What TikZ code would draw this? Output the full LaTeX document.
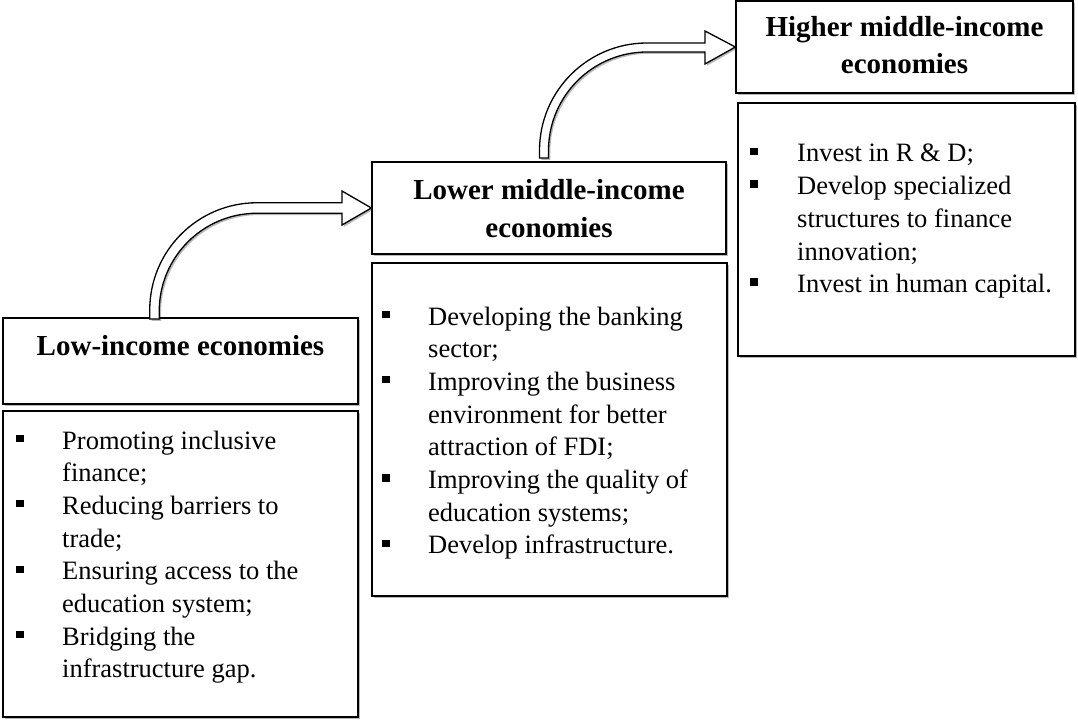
\documentclass[tikz,border=0pt]{standalone}
\usepackage{fontspec}
\setmainfont{Liberation Serif}
\usetikzlibrary{shadows}
\newcommand{\bul}{\makebox[46pt][l]{\rule[7pt]{7.3pt}{7.3pt}}}
\begin{document}
\begin{tikzpicture}[x=1pt,y=-1pt,
  shade/.style={drop shadow={shadow xshift=1.8pt,shadow yshift=-1.8pt,opacity=0.28,fill=black}},
  box/.style={draw=black,line width=1.3pt,fill=white,inner sep=0pt,shade},
  head/.style={inner sep=0pt,anchor=base,font=\fontsize{29}{37}\selectfont\bfseries},
  body/.style={inner sep=0pt,anchor=base west,font=\fontsize{26.5}{32.7}\selectfont},
  barrow/.style={draw=black,line width=1.3pt,fill=white,line join=miter,shade}]
\useasboundingbox (0,0) rectangle (1078,722);

% boxes
\node[box,minimum width=355pt,minimum height=86pt] (H1) at (180.5,361) {};
\node[box,minimum width=355pt,minimum height=306pt] (B1) at (180.5,564) {};
\node[box,minimum width=354pt,minimum height=92pt] (H2) at (549,208) {};
\node[box,minimum width=355pt,minimum height=333pt] (B2) at (549.5,429.5) {};
\node[box,minimum width=337pt,minimum height=92pt] (H3) at (904.5,47) {};
\node[box,minimum width=337pt,minimum height=253pt] (B3) at (906.5,229.5) {};

% arrows
\coordinate (s1) at (154.5,319);
\coordinate (s2) at (544,158);
\path[barrow] (149.75,319) -- (149.75,310) arc[start angle=180,end angle=270,radius=107.25]
  -- (342,202.75) -- (342,191) -- (H2.west) -- (342,225) -- (342,213.25) -- (257,213.25)
  arc[start angle=270,end angle=180,radius=97.75] -- (159.25,319) -- cycle;
\path[barrow] (539.5,158) -- (539.5,150.5) arc[start angle=180,end angle=270,radius=107.5]
  -- (705,43) -- (705,31) -- (H3.west) -- (705,64) -- (705,52) -- (647,52)
  arc[start angle=270,end angle=180,radius=98.5] -- (548.5,158) -- cycle;

% headings
\node[head] (t1) at (180.5,355) {Low-income economies};
\node[head] (t2) at (549,200) {\begin{tabular}[t]{@{}c@{}}Lower middle-income\\economies\end{tabular}};
\node[head] (t3) at (904.5,37) {\begin{tabular}[t]{@{}c@{}}Higher middle-income\\economies\end{tabular}};

% lists
\node[body] (l1) at (16,449) {\begin{tabular}[t]{@{}l@{}l@{}}
\bul & Promoting inclusive\\ & finance;\\
\bul & Reducing barriers to\\ & trade;\\
\bul & Ensuring access to the\\ & education system;\\
\bul & Bridging the\\ & infrastructure gap.\end{tabular}};
\node[body] (l2) at (382,325) {\begin{tabular}[t]{@{}l@{}l@{}}
\bul & Developing the banking\\ & sector;\\
\bul & Improving the business\\ & environment for better\\ & attraction of FDI;\\
\bul & Improving the quality of\\ & education systems;\\
\bul & Develop infrastructure.\end{tabular}};
\node[body] (l3) at (750,162) {\begin{tabular}[t]{@{}l@{}l@{}}
\makebox[47pt][l]{\rule[7pt]{7.3pt}{7.3pt}} & Invest in R \& D;\\
\bul & Develop specialized\\ & structures to finance\\ & innovation;\\
\bul & Invest in human capital.\end{tabular}};
\end{tikzpicture}
\end{document}
